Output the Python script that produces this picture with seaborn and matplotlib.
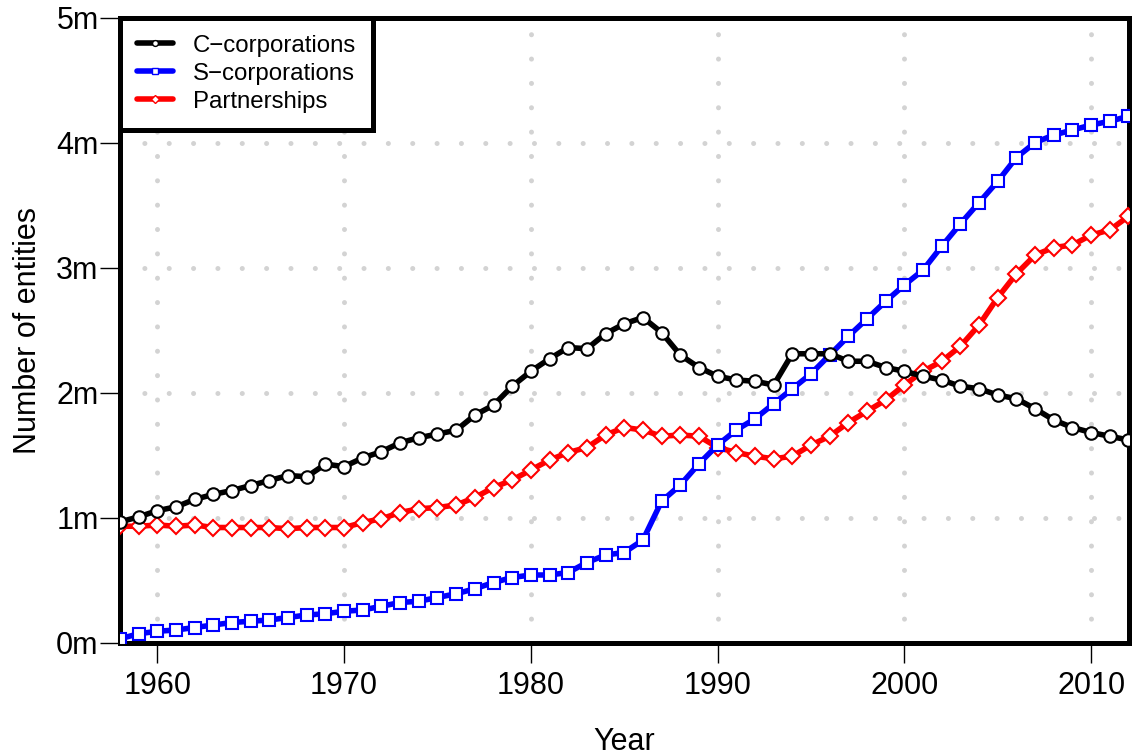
import matplotlib
matplotlib.use("Agg")
import matplotlib.pyplot as plt
from matplotlib.lines import Line2D
import pandas as pd
import seaborn as sns

# Number of business entities by type (millions), 1958-2012
years = list(range(1958, 2013))

c_corporations = [
    0.965, 1.005, 1.055, 1.085, 1.145, 1.185, 1.216, 1.256, 1.296, 1.336,
    1.326, 1.427, 1.407, 1.477, 1.527, 1.598, 1.638, 1.668, 1.698, 1.819,
    1.899, 2.05, 2.17, 2.27, 2.36, 2.35, 2.47, 2.55, 2.60, 2.48,
    2.30, 2.20, 2.13, 2.10, 2.09, 2.06, 2.31, 2.31, 2.31, 2.25,
    2.25, 2.20, 2.17, 2.13, 2.10, 2.05, 2.03, 1.98, 1.95, 1.87,
    1.78, 1.72, 1.68, 1.65, 1.62,
]

s_corporations = [
    0.03, 0.07, 0.09, 0.10, 0.12, 0.14, 0.16, 0.17, 0.18, 0.20,
    0.22, 0.23, 0.25, 0.26, 0.29, 0.32, 0.33, 0.36, 0.39, 0.43,
    0.48, 0.52, 0.54, 0.54, 0.56, 0.64, 0.70, 0.72, 0.82, 1.13,
    1.26, 1.43, 1.58, 1.70, 1.79, 1.91, 2.03, 2.15, 2.30, 2.45,
    2.59, 2.73, 2.86, 2.98, 3.17, 3.35, 3.52, 3.69, 3.88, 4.00,
    4.06, 4.10, 4.14, 4.17, 4.21,
]

partnerships = [
    0.93, 0.93, 0.94, 0.93, 0.94, 0.92, 0.92, 0.92, 0.92, 0.91,
    0.92, 0.92, 0.92, 0.96, 0.99, 1.04, 1.07, 1.08, 1.10, 1.16,
    1.24, 1.30, 1.38, 1.46, 1.52, 1.56, 1.66, 1.72, 1.70, 1.65,
    1.66, 1.65, 1.56, 1.52, 1.49, 1.47, 1.49, 1.58, 1.65, 1.76,
    1.85, 1.94, 2.06, 2.17, 2.25, 2.37, 2.54, 2.76, 2.95, 3.10,
    3.16, 3.18, 3.26, 3.30, 3.41,
]

series_names = ["C\u2212corporations", "S\u2212corporations", "Partnerships"]
series_values = [c_corporations, s_corporations, partnerships]
series_colors = ["black", "blue", "red"]
series_markers = ["o", "s", "D"]
series_marker_sizes = [9.0, 8.0, 8.4]

x_ticks = [1960, 1970, 1980, 1990, 2000, 2010]
y_ticks = [0, 1, 2, 3, 4, 5]
y_tick_labels = ["0m", "1m", "2m", "3m", "4m", "5m"]

df = pd.DataFrame({
    "Year": years * len(series_names),
    "Entities": [v for vals in series_values for v in vals],
    "Type": [n for n in series_names for _ in years],
})

sns.set_theme(style="white")
plt.rcParams["font.family"] = ["Liberation Sans", "DejaVu Sans"]
plt.rcParams["text.color"] = "black"
plt.rcParams["axes.unicode_minus"] = True

W, H = 1135, 755
fig = plt.figure(figsize=(W / 100, H / 100), dpi=100)
ax = fig.add_axes([120 / W, 1 - 642.5 / H, (1128.5 - 120) / W, (642.5 - 17.5) / H])

# dotted light-grey grid beneath the data
ax.set_axisbelow(True)
ax.grid(True, color="#D3D3D3", linewidth=3.6, linestyle=(0, (0.01, 4.86)),
        dash_capstyle="round")

# partnerships drawn first, C-corporations on top
for name, color, marker, ms in reversed(list(zip(series_names, series_colors,
                                                 series_markers, series_marker_sizes))):
    sns.lineplot(data=df[df["Type"] == name], x="Year", y="Entities", ax=ax,
                 color=color, linewidth=4.0, marker=marker, markersize=ms,
                 markerfacecolor="white", markeredgecolor=color,
                 markeredgewidth=1.5, errorbar=None, legend=False, zorder=3)

ax.set_xlim(1958, 2012)
ax.set_ylim(0, 5)
ax.set_xticks(x_ticks)
ax.set_yticks(y_ticks)
ax.set_yticklabels(y_tick_labels)

for sp in ax.spines.values():
    sp.set_visible(True)
    sp.set_color("black")
    sp.set_linewidth(3.6)

ax.tick_params(axis="both", which="major", bottom=True, left=True,
               direction="out", length=14.4, width=1.0, color="black",
               labelsize=22, labelcolor="black")
ax.tick_params(axis="x", pad=6)
ax.tick_params(axis="y", pad=1)

ax.set_xlabel("Year", fontsize=22, color="black")
ax.set_ylabel("Number of entities", fontsize=22, color="black")
ax.xaxis.set_label_coords(0.5, -0.135)
ax.yaxis.set_label_coords(-0.076, 0.5)

handles = [
    Line2D([], [], color=c, linewidth=4.0, marker=m, markersize=4.2,
           markerfacecolor="white", markeredgecolor=c, markeredgewidth=1.0)
    for c, m in zip(series_colors, series_markers)
]
leg = ax.legend(handles, series_names, loc="upper left", bbox_to_anchor=(0, 1),
                borderaxespad=0, frameon=True, fancybox=False, framealpha=1,
                edgecolor="black", facecolor="white", fontsize=17.3,
                labelcolor="black", borderpad=0.72, handlelength=1.5,
                handletextpad=0.8, labelspacing=0.25)
leg.get_frame().set_linewidth(3.6)
leg.set_zorder(5)

fig.savefig("out.png", dpi=100, facecolor="white")
